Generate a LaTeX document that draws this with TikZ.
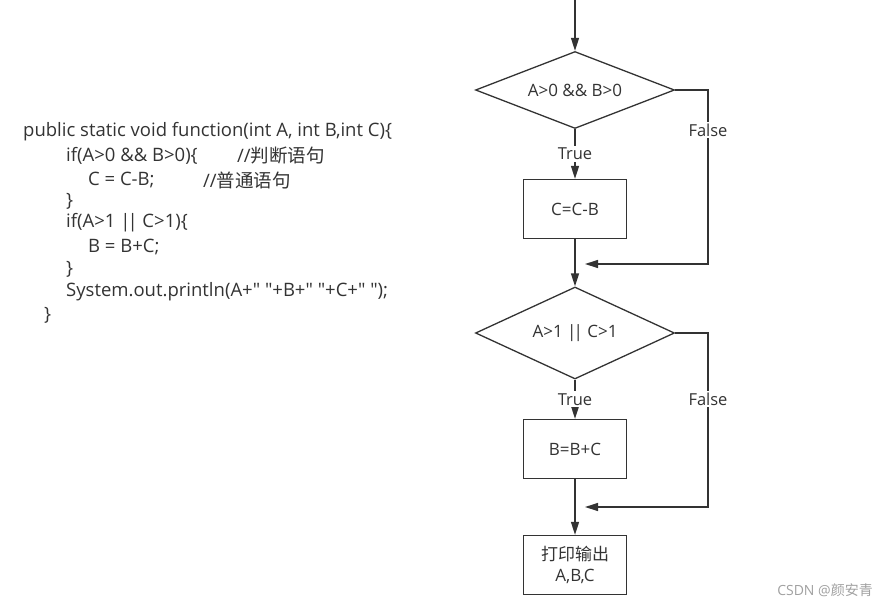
\documentclass[tikz,border=0pt]{standalone}
\usepackage{fontspec}
\setmainfont{Open Sans}
\newfontfamily\cjk{Noto Sans CJK SC}
\usetikzlibrary{shapes.geometric,arrows.meta}

\definecolor{ink}{HTML}{333333}
\definecolor{mark}{HTML}{A0A0A0}

\newcommand{\qq}{\textquotedbl}
\newcommand{\barbar}{|\kern-3pt|}

\tikzset{
    code/.style={anchor=west, inner sep=0pt, text=ink, font=\fontsize{18.5}{22}\selectfont},
    decision/.style={diamond, draw=ink, line width=1.3pt, minimum width=199pt, text=ink, inner sep=0pt, font=\fontsize{17}{20}\selectfont},
    process/.style={rectangle, draw=ink, line width=1.3pt, minimum width=103pt, minimum height=59pt, text=ink, align=center, font=\fontsize{17}{21}\selectfont},
    flow/.style={draw=ink, line width=1.3pt, -{Triangle[length=13pt,width=8pt]}},
    branch/.style={fill=white, text=ink, inner sep=2pt, font=\fontsize{16.5}{19}\selectfont}
}

\begin{document}
\begin{tikzpicture}[x=1pt, y=-1pt]
            \useasboundingbox (0,0) rectangle (890,607);

            % code listing
            \node[code] (c1) at (23,132) {public static void function(int A, int B,int C)\{};
            \node[code] (c2) at (66,156) {if(A>0 \&\& B>0)\{};
            \node[code] (c2n) at (237,156) {//{\cjk 判断语句}};
            \node[code] (c3) at (88,180) {C = C-B;};
            \node[code] (c3n) at (203,180) {//{\cjk 普通语句}};
            \node[code] (c4) at (66,201) {\}};
            \node[code] (c5) at (66,223) {if(A>1 \barbar{} C>1)\{};
            \node[code] (c6) at (88,247) {B = B+C;};
            \node[code] (c7) at (66,269) {\}};
            \node[code] (c8) at (66,292) {System.out.println(A+\qq{} \qq{}+B+\qq{} \qq{}+C+\qq{} \qq{});};
            \node[code] (c9) at (44,315) {\}};

            % flow chart
            \coordinate (start) at (575,-2);
            \node[decision, minimum height=77pt, aspect=2.6] (d1) at (575,90) {A>0 \&\& B>0};
            \node[process] (b1) at (575,209) {C=C-B};
            \node[decision, minimum height=92pt, aspect=2.2] (d2) at (575,333) {A>1 \barbar{} C>1};
            \node[process] (b2) at (575,449) {B=B+C};
            \node[process] (b3) at (575,565) {{\cjk 打印输出}\\A,B,C};

            \coordinate (f1) at (708,264);
            \coordinate (j1) at (585,264);
            \coordinate (f2) at (708,507);
            \coordinate (j2) at (585,507);

            \draw[flow] (start) -- (d1.north);
            \draw[flow] (d1.south) -- (b1.north) node[branch, midway] (t1) {True};
            \draw[flow] (b1.south) -- (d2.north);
            \draw[flow] (d2.south) -- (b2.north) node[branch, midway] (t2) {True};
            \draw[flow] (b2.south) -- (b3.north);
            \draw[flow] (d1.east) -| (f1) -- (j1);
            \draw[flow] (d2.east) -| (f2) -- (j2);
            \node[branch] (n1) at (708,130) {False};
            \node[branch] (n2) at (708,399) {False};

            \node[text=mark, font=\fontsize{14}{16}\selectfont] (wm) at (825,590) {CSDN @{\cjk 颜安青}};
        \end{tikzpicture}
\end{document}
